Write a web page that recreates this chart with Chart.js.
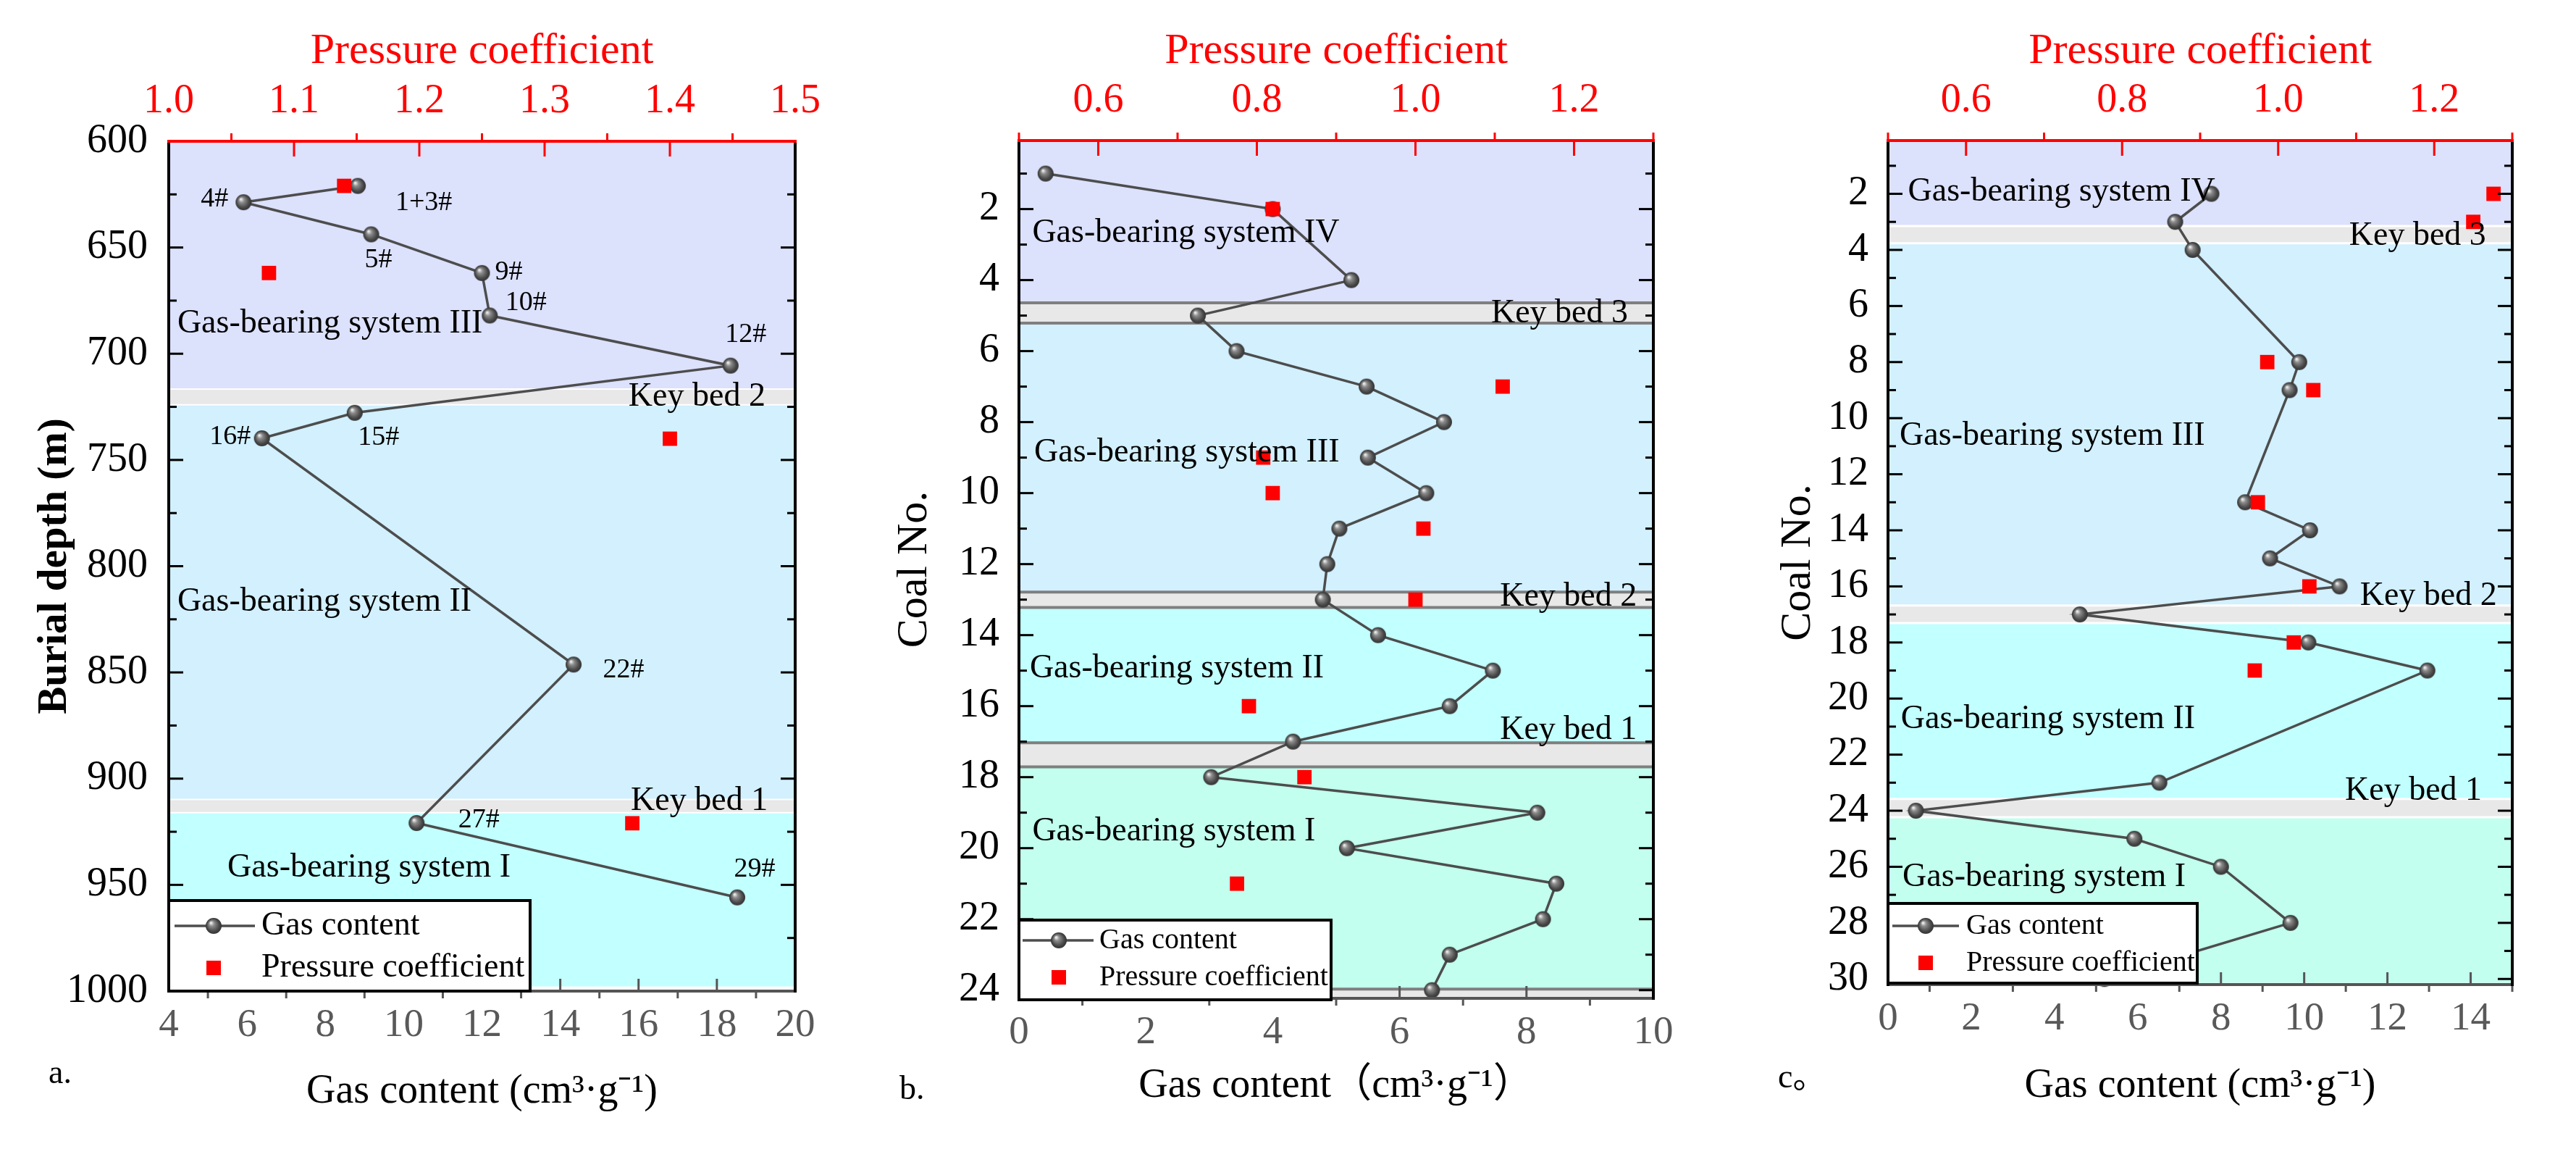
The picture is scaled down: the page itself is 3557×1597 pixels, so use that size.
<!DOCTYPE html>
<html>
<head>
<meta charset="utf-8">
<script src="https://cdn.jsdelivr.net/npm/chart.js@4.4.1/dist/chart.umd.min.js"></script>
<style>
html, body { margin: 0; padding: 0; background: #fff; }
body { width: 3557px; height: 1597px; position: relative; overflow: hidden; }
.panel { position: absolute; top: 0; height: 1597px; }
#pa { left: 0; width: 1180px; }
#pb { left: 1180px; width: 1210px; }
#pc { left: 2390px; width: 1167px; }
</style>
</head>
<body>
<div class="panel" id="pa"><canvas id="chart-a"></canvas></div>
<div class="panel" id="pb"><canvas id="chart-b"></canvas></div>
<div class="panel" id="pc"><canvas id="chart-c"></canvas></div>
<script>
// ---- panel a : burial depth ----
const depthA = [621, 628.7, 643.8, 662, 682, 705.6, 727.8, 739.8, 846.3, 920.9, 955.9];
const gasA = [8.83, 5.91, 9.17, 12.0, 12.2, 18.35, 8.75, 6.38, 14.34, 10.33, 18.52];
const seamA = ['1+3#', '4#', '5#', '9#', '10#', '12#', '15#', '16#', '22#', '27#', '29#'];
const pcDepthA = [621, 662, 740, 921];
const pcA = [1.14, 1.08, 1.40, 1.37];
const gasTicksA = [4, 6, 8, 10, 12, 14, 16, 18, 20];
const pcTicksA = [1.0, 1.1, 1.2, 1.3, 1.4, 1.5];
const depthTicksA = [600, 650, 700, 750, 800, 850, 900, 950, 1000];
const bandEdgesA = [600, 716.6, 724, 909.8, 916, 997.8];
const bandNamesA = ['Gas-bearing system III', 'Key bed 2', 'Gas-bearing system II', 'Key bed 1', 'Gas-bearing system I'];

// ---- panel b : coal no. ----
const coalB = [1, 2, 4, 5, 6, 7, 8, 9, 10, 11, 12, 13, 14, 15, 16, 17, 18, 19, 20, 21, 22, 23, 24];
const gasB = [0.42, 4.0, 5.24, 2.82, 3.43, 5.48, 6.70, 5.50, 6.42, 5.05, 4.86, 4.79, 5.66, 7.47, 6.79, 4.32, 3.03, 8.17, 5.17, 8.47, 8.26, 6.79, 6.51];
const pcCoalB = [2, 7, 9, 10, 11, 13, 16, 18, 21];
const pcB = [0.82, 1.11, 0.808, 0.82, 1.01, 1.0, 0.79, 0.86, 0.775];
const gasTicksB = [0, 2, 4, 6, 8, 10];
const pcTicksB = [0.6, 0.8, 1.0, 1.2];
const coalTicksB = [2, 4, 6, 8, 10, 12, 14, 16, 18, 20, 22, 24];
const bandEdgesB = [0.07, 4.64, 5.21, 12.79, 13.22, 17.03, 17.71, 23.97, 24.23];
const bandNamesB = ['Gas-bearing system IV', 'Key bed 3', 'Gas-bearing system III', 'Key bed 2', 'Gas-bearing system II', 'Key bed 1', 'Gas-bearing system I', ''];

// ---- panel c : coal no. ----
const coalC = [2, 3, 4, 8, 9, 13, 14, 15, 16, 17, 18, 19, 23, 24, 25, 26, 28, 30];
const gasC = [7.77, 6.9, 7.32, 9.88, 9.65, 8.58, 10.14, 9.18, 10.85, 4.61, 10.1, 12.96, 6.52, 0.67, 5.92, 8.0, 9.67, 5.2];
const pcCoalC = [2, 3, 8, 9, 13, 16, 18, 19];
const pcC = [1.276, 1.25, 0.986, 1.045, 0.974, 1.04, 1.02, 0.97];
const gasTicksC = [0, 2, 4, 6, 8, 10, 12, 14];
const pcTicksC = [0.6, 0.8, 1.0, 1.2];
const coalTicksC = [2, 4, 6, 8, 10, 12, 14, 16, 18, 20, 22, 24, 26, 28, 30];
const bandEdgesC = [0.1, 3.15, 3.76, 16.68, 17.31, 23.58, 24.23, 30.14];
const bandNamesC = ['Gas-bearing system IV', 'Key bed 3', 'Gas-bearing system III', 'Key bed 2', 'Gas-bearing system II', 'Key bed 1', 'Gas-bearing system I'];

// colours
const LAVENDER = '#dce1fc';
const LIGHTBLUE = '#d2f0fe';
const CYAN = '#c2ffff';
const MINT = '#c2ffee';
const KEYGRAY = '#e8e8e8';
const LINE = '#4d4d4d';
const RED = '#ff0000';

const FAMILY = "'Liberation Serif', 'Noto Sans CJK SC', serif";
Chart.defaults.font.family = FAMILY;
Chart.defaults.color = '#000';

/**
 * grey ball used as the gas content marker
 */
function makeBall(r) {
    const c = document.createElement('canvas');
    c.width = c.height = 2 * r + 2;
    const g = c.getContext('2d');
    const cx = r + 1, cy = r + 1;
    const grad = g.createRadialGradient(cx - r * 0.35, cy - r * 0.4, r * 0.05, cx, cy, r);
    grad.addColorStop(0, '#f2f2f2');
    grad.addColorStop(0.3, '#8c8c8c');
    grad.addColorStop(0.75, '#4a4a4a');
    grad.addColorStop(1, '#333333');
    g.fillStyle = grad;
    g.beginPath();
    g.arc(cx, cy, r, 0, Math.PI * 2);
    g.fill();
    return c;
}
const BALL = makeBall(11);

// midpoints between the major ticks (minor ticks)
function minorsOf(majors, min, max) {
    const step = majors[1] - majors[0];
    const out = [];
    for (let i = -1; i < majors.length; i++) {
        const v = +(majors[0] + (i + 0.5) * step).toFixed(6);
        if (v >= min - 1e-6 && v <= max + 1e-6) out.push(v);
    }
    return out;
}

function tickMarks(ctx, scale, values, side, len, inward, a) {
    values.forEach(v => {
        const p = scale.getPixelForValue(v);
        ctx.beginPath();
        if (side === 'left' || side === 'right') {
            const x0 = side === 'left' ? a.left : a.right;
            const dir = (side === 'left') === inward ? 1 : -1;
            ctx.moveTo(x0, p);
            ctx.lineTo(x0 + dir * len, p);
        } else {
            const y0 = side === 'top' ? a.top : a.bottom;
            const dir = (side === 'top') === inward ? 1 : -1;
            ctx.moveTo(p, y0);
            ctx.lineTo(p, y0 + dir * len);
        }
        ctx.stroke();
    });
}

function drawBands(chart, p) {
    const { ctx, chartArea: a } = chart;
    const y = chart.scales.y;
    ctx.save();
    for (let i = 0; i < p.bandEdges.length - 1; i++) {
        const y0 = y.getPixelForValue(p.bandEdges[i]);
        const y1 = y.getPixelForValue(p.bandEdges[i + 1]);
        ctx.fillStyle = p.bandColors[i];
        ctx.fillRect(a.left, y0, a.right - a.left, y1 - y0);
    }
    // band borders
    ctx.strokeStyle = p.sepColor;
    ctx.lineWidth = p.sepWidth;
    for (let i = 1; i < p.bandEdges.length - 1; i++) {
        const yy = y.getPixelForValue(p.bandEdges[i]);
        ctx.beginPath();
        ctx.moveTo(a.left, yy);
        ctx.lineTo(a.right, yy);
        ctx.stroke();
    }
    ctx.restore();
}

function drawTexts(chart, p) {
    const { ctx } = chart;
    const x = chart.scales.x, y = chart.scales.y;
    ctx.save();
    ctx.fillStyle = '#000';
    ctx.textBaseline = 'middle';
    ctx.font = p.bandFont + 'px ' + FAMILY;
    p.bandNames.forEach((name, i) => {
        if (!name) return;
        const pos = p.bandLabelPos[i];
        ctx.textAlign = pos[2];
        ctx.fillText(name, x.getPixelForValue(pos[0]), y.getPixelForValue(pos[1]));
    });
    if (p.seams) {
        ctx.font = p.seamFont + 'px ' + FAMILY;
        ctx.textAlign = 'center';
        p.seams.forEach((s, i) => {
            const px = x.getPixelForValue(p.gas[i]) + p.seamOffsets[i][0];
            const py = y.getPixelForValue(p.ys[i]) + p.seamOffsets[i][1];
            ctx.fillText(s, px, py);
        });
    }
    ctx.restore();
}

function drawFrame(chart, p) {
    const { ctx, chartArea: a } = chart;
    const sx = chart.scales.x, sx2 = chart.scales.x2, sy = chart.scales.y;
    ctx.save();
    ctx.lineCap = 'butt';
    ctx.lineWidth = 3;
    // left / right ticks (inward)
    ctx.strokeStyle = '#000';
    const yMinor = minorsOf(p.yTicks, p.yMin, p.yMax);
    ['left', 'right'].forEach(side => {
        tickMarks(ctx, sy, p.yTicks, side, 20, true, a);
        tickMarks(ctx, sy, yMinor, side, 11, true, a);
    });
    // top ticks (red)
    ctx.strokeStyle = RED;
    tickMarks(ctx, sx2, p.pcTicks, 'top', 21, true, a);
    tickMarks(ctx, sx2, minorsOf(p.pcTicks, p.pcMin, p.pcMax), 'top', 11, false, a);
    // bottom ticks (grey)
    ctx.strokeStyle = '#555555';
    tickMarks(ctx, sx, p.gasTicks, 'bottom', 17, true, a);
    tickMarks(ctx, sx, minorsOf(p.gasTicks, p.gasMin, p.gasMax), 'bottom', 10, false, a);

    // frame
    ctx.lineWidth = 4;
    ctx.strokeStyle = '#555555';
    ctx.beginPath(); ctx.moveTo(a.left, a.bottom); ctx.lineTo(a.right, a.bottom); ctx.stroke();
    ctx.strokeStyle = '#000';
    ctx.beginPath(); ctx.moveTo(a.left, a.top); ctx.lineTo(a.left, a.bottom + 2); ctx.stroke();
    ctx.beginPath(); ctx.moveTo(a.right, a.top); ctx.lineTo(a.right, a.bottom + 2); ctx.stroke();
    ctx.strokeStyle = RED;
    ctx.beginPath(); ctx.moveTo(a.left - 2, a.top); ctx.lineTo(a.right + 2, a.top); ctx.stroke();
    ctx.restore();
}

function drawLegend(chart, p) {
    const { ctx, chartArea: a } = chart;
    const L = p.legend;
    const left = a.left, top = a.bottom + L.shift - L.h;
    ctx.save();
    ctx.fillStyle = '#fff';
    ctx.fillRect(left, top, L.w, L.h);
    ctx.strokeStyle = '#000';
    ctx.lineWidth = 4;
    ctx.strokeRect(left, top, L.w, L.h);
    // gas content
    const r1 = top + L.rows[0];
    ctx.strokeStyle = LINE;
    ctx.lineWidth = 3.5;
    ctx.beginPath();
    ctx.moveTo(left + L.lineX[0], r1);
    ctx.lineTo(left + L.lineX[1], r1);
    ctx.stroke();
    ctx.drawImage(BALL, left + L.markX - BALL.width / 2, r1 - BALL.height / 2);
    // pressure coefficient
    const r2 = top + L.rows[1];
    ctx.fillStyle = RED;
    ctx.fillRect(left + L.markX - 10, r2 - 10, 20, 20);
    ctx.fillStyle = '#000';
    ctx.font = L.font + 'px ' + FAMILY;
    ctx.textAlign = 'left';
    ctx.textBaseline = 'middle';
    ctx.fillText('Gas content', left + L.textX, r1);
    ctx.fillText('Pressure coefficient', left + L.textX, r2);
    ctx.restore();
}

function drawLetter(chart, p) {
    const { ctx } = chart;
    ctx.save();
    ctx.fillStyle = '#000';
    ctx.font = '46px ' + FAMILY;
    ctx.textAlign = 'left';
    ctx.textBaseline = 'middle';
    ctx.fillText(p.letter, p.letterPos[0], p.letterPos[1]);
    ctx.restore();
}

/**
 * build one panel
 */
function buildPanel(p) {
    const ctx = document.getElementById(p.canvas).getContext('2d');
    const fixTicks = values => scale => { scale.ticks = values.map(v => ({ value: v })); };

    return new Chart(ctx, {
        type: 'scatter',
        data: {
            datasets: [
                {
                    label: 'Gas content',
                    data: p.gas.map((v, i) => ({ x: v, y: p.ys[i] })),
                    xAxisID: 'x',
                    yAxisID: 'y',
                    showLine: true,
                    tension: 0,
                    borderColor: LINE,
                    borderWidth: 3.5,
                    pointStyle: BALL,
                    pointRadius: 11,
                    clip: false,
                    order: 2
                },
                {
                    label: 'Pressure coefficient',
                    data: p.pc.map((v, i) => ({ x: v, y: p.pcYs[i] })),
                    xAxisID: 'x2',
                    yAxisID: 'y',
                    showLine: false,
                    pointStyle: 'rect',
                    pointRadius: 14,
                    backgroundColor: RED,
                    borderWidth: 0,
                    clip: false,
                    order: 1
                }
            ]
        },
        options: {
            responsive: true,
            maintainAspectRatio: false,
            animation: false,
            devicePixelRatio: 1,
            events: [],
            layout: { padding: { left: 0, right: p.padRight, top: 0, bottom: 0 } },
            plugins: {
                legend: { display: false },
                tooltip: { enabled: false }
            },
            scales: {
                x: {
                    type: 'linear',
                    position: 'bottom',
                    min: p.gasMin,
                    max: p.gasMax,
                    afterBuildTicks: fixTicks(p.gasTicks),
                    afterFit: scale => { scale.height = p.bottomH; },
                    grid: { display: false, drawTicks: false },
                    border: { display: false },
                    ticks: {
                        color: '#595959',
                        font: { family: FAMILY, size: 55 },
                        padding: 15,
                        autoSkip: false,
                        maxRotation: 0,
                        callback: v => String(v)
                    },
                    title: {
                        display: true,
                        text: p.xTitle,
                        color: '#000',
                        font: { family: FAMILY, size: 56 },
                        padding: { top: 0, bottom: p.xTitlePad }
                    }
                },
                x2: {
                    type: 'linear',
                    position: 'top',
                    min: p.pcMin,
                    max: p.pcMax,
                    afterBuildTicks: fixTicks(p.pcTicks),
                    afterFit: scale => { scale.height = p.topH; },
                    grid: { display: false, drawTicks: false },
                    border: { display: false },
                    ticks: {
                        color: RED,
                        font: { family: FAMILY, size: 56 },
                        padding: 21,
                        autoSkip: false,
                        maxRotation: 0,
                        callback: v => v.toFixed(1)
                    },
                    title: {
                        display: true,
                        text: 'Pressure coefficient',
                        color: RED,
                        font: { family: FAMILY, size: 60 },
                        padding: { top: 35, bottom: 0 }
                    }
                },
                y: {
                    type: 'linear',
                    position: 'left',
                    reverse: true,
                    min: p.yMin,
                    max: p.yMax,
                    afterBuildTicks: fixTicks(p.yTicks),
                    afterFit: scale => { scale.width = p.leftW; },
                    grid: { display: false, drawTicks: false },
                    border: { display: false },
                    ticks: {
                        color: '#000',
                        font: { family: FAMILY, size: 56 },
                        padding: p.yTickPad,
                        autoSkip: false,
                        callback: v => String(v)
                    },
                    title: {
                        display: true,
                        text: p.yTitle,
                        color: '#000',
                        font: Object.assign({ family: FAMILY }, p.yTitleFont),
                        padding: { top: p.yTitlePad, bottom: 0 }
                    }
                }
            }
        },
        plugins: [{
            id: 'decor',
            beforeDatasetsDraw(chart) { drawBands(chart, p); },
            afterDatasetsDraw(chart) { drawTexts(chart, p); drawFrame(chart, p); },
            afterDraw(chart) { drawLegend(chart, p); drawLetter(chart, p); }
        }]
    });
}

function init() {
    buildPanel({
        canvas: 'chart-a',
        gas: gasA, ys: depthA, pc: pcA, pcYs: pcDepthA,
        gasMin: 4, gasMax: 20, gasTicks: gasTicksA,
        pcMin: 1.0, pcMax: 1.5, pcTicks: pcTicksA,
        yMin: 600, yMax: 1000, yTicks: depthTicksA,
        bandEdges: bandEdgesA, bandNames: bandNamesA,
        bandColors: [LAVENDER, KEYGRAY, LIGHTBLUE, KEYGRAY, CYAN],
        sepColor: '#ffffff', sepWidth: 2,
        bandLabelPos: [[4.22, 686, 'left'], [19.24, 720.4, 'right'], [4.22, 816.7, 'left'], [19.3, 910.7, 'right'], [5.5, 942, 'left']],
        bandFont: 46,
        seams: seamA, seamFont: 38,
        seamOffsets: [[91, 23], [-40, -4], [10, 36], [37, -1], [50, -17], [21, -43], [33, 34], [-44, -2], [69, 8], [86, -4], [24, -39]],
        leftW: 233, topH: 195, bottomH: 229, padRight: 82,
        yTickPad: 29,
        xTitle: 'Gas content (cm\u00b3\u00b7g\u207b\u00b9)', xTitlePad: 56,
        yTitle: 'Burial depth (m)', yTitleFont: { size: 57, weight: 'bold' }, yTitlePad: 42,
        legend: { w: 499, h: 125, shift: 0, font: 46, rows: [35, 93], lineX: [8, 119], markX: 62, textX: 128 },
        letter: 'a.', letterPos: [67, 1483]
    });

    buildPanel({
        canvas: 'chart-b',
        gas: gasB, ys: coalB, pc: pcB, pcYs: pcCoalB,
        gasMin: 0, gasMax: 10, gasTicks: gasTicksB,
        pcMin: 0.5, pcMax: 1.3, pcTicks: pcTicksB,
        yMin: 0.07, yMax: 24.23, yTicks: coalTicksB,
        bandEdges: bandEdgesB, bandNames: bandNamesB,
        bandColors: [LAVENDER, KEYGRAY, LIGHTBLUE, KEYGRAY, CYAN, KEYGRAY, MINT, KEYGRAY],
        sepColor: '#7f7f7f', sepWidth: 4,
        bandLabelPos: [[0.21, 2.68, 'left'], [9.6, 4.94, 'right'], [0.24, 8.86, 'left'], [9.74, 12.92, 'right'], [0.17, 14.95, 'left'], [9.74, 16.68, 'right'], [0.21, 19.53, 'left']],
        bandFont: 46,
        leftW: 227, topH: 194, bottomH: 219, padRight: 107,
        yTickPad: 27,
        xTitle: 'Gas content\uff08cm\u00b3\u00b7g\u207b\u00b9\uff09', xTitlePad: 64,
        yTitle: 'Coal No.', yTitleFont: { size: 60 }, yTitlePad: 47,
        legend: { w: 431, h: 110, shift: 2, font: 40, rows: [28, 79], lineX: [5, 103], markX: 55, textX: 111 },
        letter: 'b.', letterPos: [62, 1505]
    });

    buildPanel({
        canvas: 'chart-c',
        gas: gasC, ys: coalC, pc: pcC, pcYs: pcCoalC,
        gasMin: 0, gasMax: 15, gasTicks: gasTicksC,
        pcMin: 0.5, pcMax: 1.3, pcTicks: pcTicksC,
        yMin: 0.1, yMax: 30.2, yTicks: coalTicksC,
        bandEdges: bandEdgesC, bandNames: bandNamesC,
        bandColors: [LAVENDER, KEYGRAY, LIGHTBLUE, KEYGRAY, CYAN, KEYGRAY, MINT],
        sepColor: '#ffffff', sepWidth: 3,
        bandLabelPos: [[0.48, 1.93, 'left'], [14.37, 3.5, 'right'], [0.28, 10.64, 'left'], [14.63, 16.35, 'right'], [0.31, 20.75, 'left'], [14.27, 23.3, 'right'], [0.35, 26.38, 'left']],
        bandFont: 46,
        leftW: 217, topH: 194, bottomH: 238, padRight: 88,
        yTickPad: 27,
        xTitle: 'Gas content (cm\u00b3\u00b7g\u207b\u00b9)', xTitlePad: 64,
        yTitle: 'Coal No.', yTitleFont: { size: 60 }, yTitlePad: 57,
        legend: { w: 427, h: 110, shift: -2, font: 40, rows: [31, 82], lineX: [6, 98], markX: 52, textX: 108 },
        letter: 'c\u3002', letterPos: [65, 1489]
    });
}

if (document.fonts && document.fonts.load) {
    document.fonts.load("56px 'Liberation Serif'").then(init, init);
} else {
    init();
}
</script>
</body>
</html>
